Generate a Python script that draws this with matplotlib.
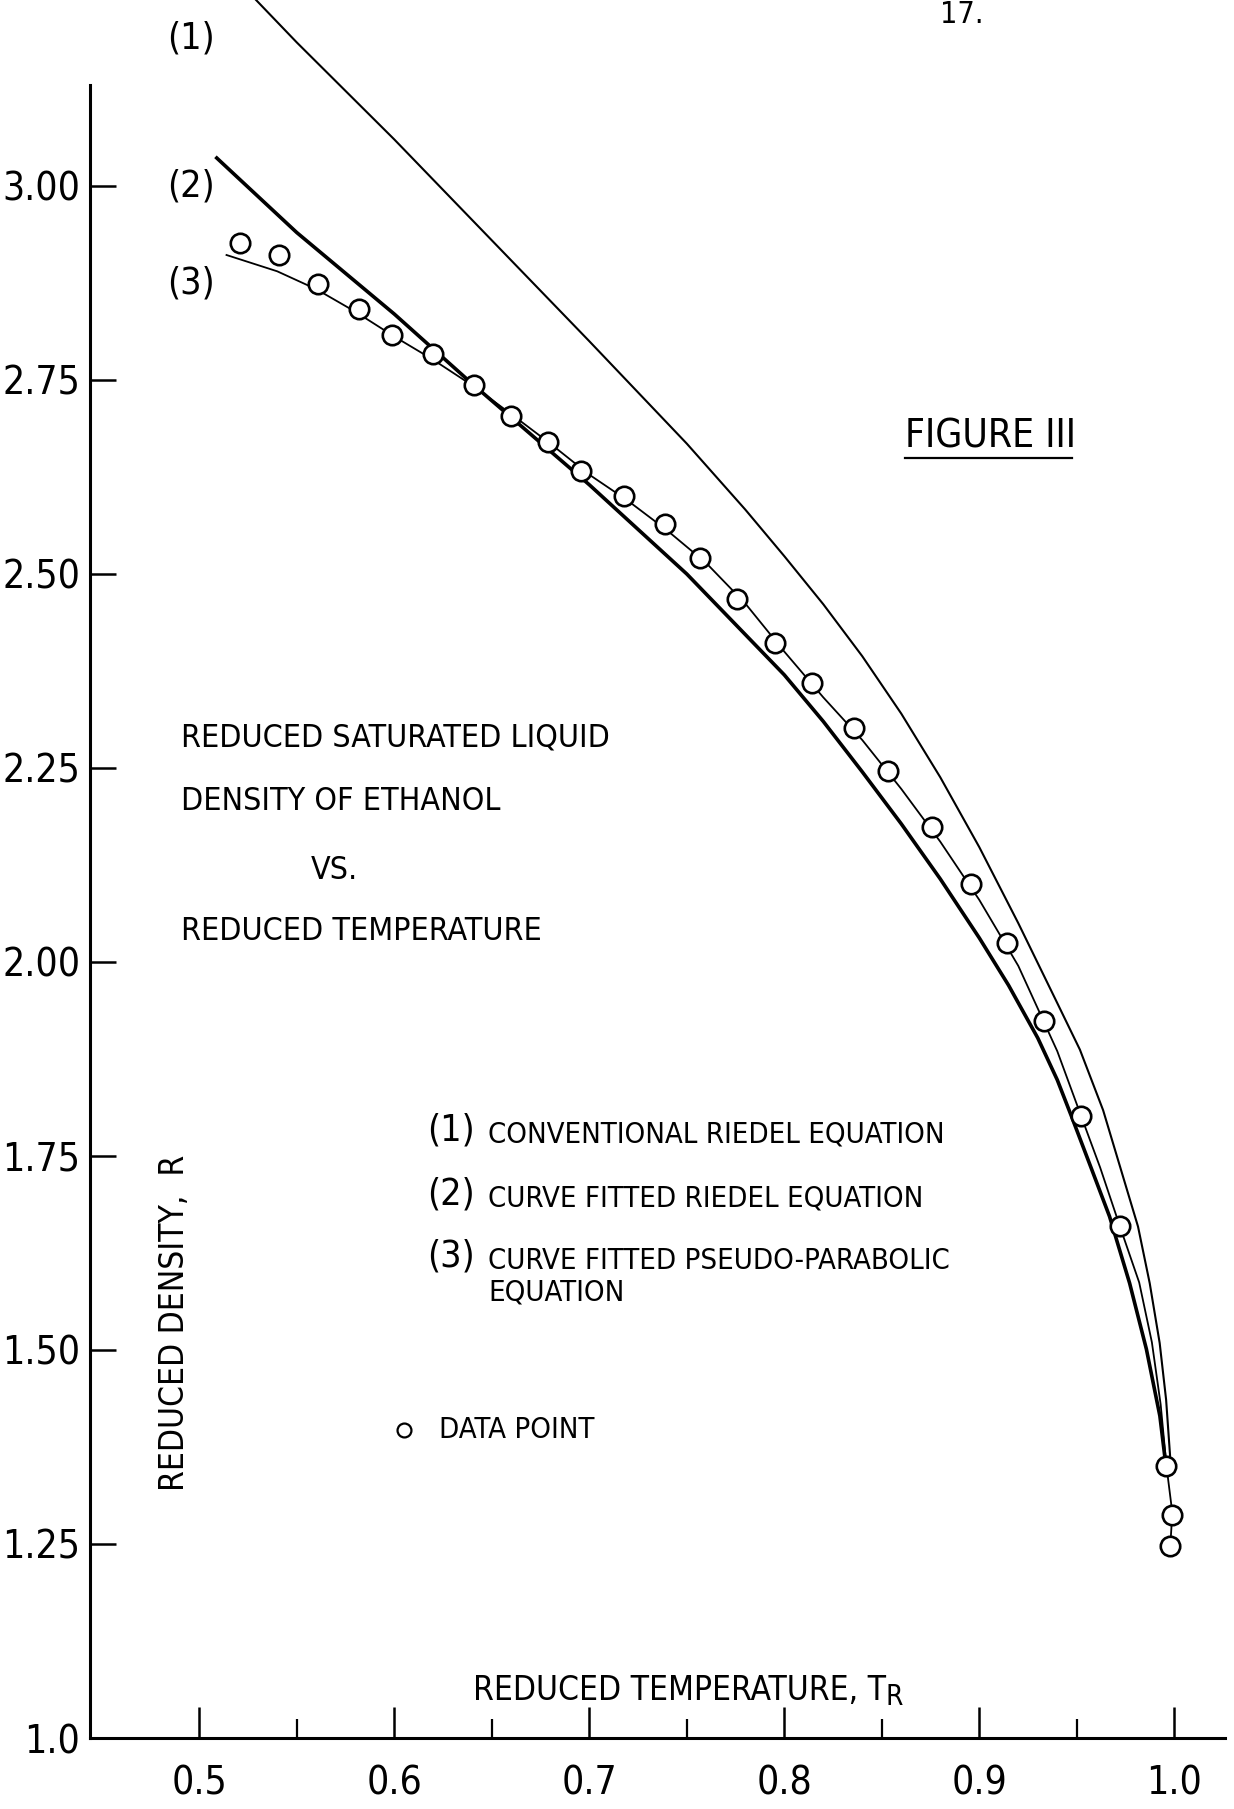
import os
import matplotlib
matplotlib.use('Agg')
import matplotlib.pyplot as plt
from matplotlib import font_manager
from matplotlib.font_manager import FontProperties
from matplotlib.lines import Line2D
from matplotlib.ticker import FixedLocator

# Donnees (temperature reduite, densite reduite)
data_tr = [0.521, 0.541, 0.561, 0.582, 0.599, 0.620, 0.641, 0.660, 0.679, 0.696,
           0.718, 0.739, 0.757, 0.776, 0.795, 0.814, 0.836, 0.853, 0.876, 0.896,
           0.914, 0.933, 0.952, 0.972, 0.996, 0.999, 0.998]
data_rho = [2.927, 2.911, 2.874, 2.842, 2.808, 2.784, 2.743, 2.704, 2.670, 2.633,
            2.600, 2.564, 2.520, 2.468, 2.411, 2.359, 2.301, 2.246, 2.174, 2.101,
            2.025, 1.924, 1.801, 1.660, 1.350, 1.287, 1.248]

# (1) equation de Riedel conventionnelle
riedel_tr = [0.529, 0.55, 0.60, 0.65, 0.70, 0.75, 0.78, 0.80, 0.82, 0.84, 0.86,
             0.88, 0.90, 0.92, 0.94, 0.9516, 0.9635, 0.9814, 0.9874, 0.9925, 0.9958, 0.998]
riedel_rho = [3.24, 3.185, 3.06, 2.93, 2.80, 2.668, 2.583, 2.523, 2.461, 2.394, 2.32,
              2.238, 2.148, 2.05, 1.947, 1.887, 1.809, 1.659, 1.586, 1.509, 1.436, 1.358]

# (2) equation de Riedel ajustee
fit_riedel_tr = [0.509, 0.55, 0.60, 0.64, 0.70, 0.75, 0.80, 0.82, 0.84, 0.86, 0.88,
                 0.90, 0.915, 0.93, 0.94, 0.9473, 0.957, 0.9668, 0.9771, 0.9857, 0.9926, 0.9955]
fit_riedel_rho = [3.036, 2.94, 2.835, 2.745, 2.615, 2.50, 2.37, 2.31, 2.245, 2.178, 2.107,
                  2.031, 1.97, 1.902, 1.848, 1.801, 1.737, 1.672, 1.586, 1.501, 1.415, 1.355]

# (3) equation pseudo-parabolique ajustee
parab_tr = [0.514, 0.54, 0.56, 0.58, 0.60, 0.62, 0.64, 0.66, 0.68, 0.70,
            0.72, 0.74, 0.76, 0.78, 0.80, 0.82, 0.84, 0.86, 0.88, 0.90,
            0.92, 0.94, 0.952, 0.962, 0.972, 0.982, 0.9885, 0.993, 0.996, 0.999, 0.998]
parab_rho = [2.911, 2.89, 2.867, 2.838, 2.806, 2.776, 2.743, 2.706, 2.668, 2.628,
             2.594, 2.556, 2.514, 2.462, 2.400, 2.341, 2.286, 2.223, 2.155, 2.080,
             1.995, 1.885, 1.803, 1.735, 1.66, 1.587, 1.51, 1.43, 1.35, 1.29, 1.25]

y_ticks = [1.0, 1.25, 1.50, 1.75, 2.00, 2.25, 2.50, 2.75, 3.00]
y_labels = ['1.0', '1.25', '1.50', '1.75', '2.00', '2.25', '2.50', '2.75', '3.00']
x_ticks = [0.5, 0.6, 0.7, 0.8, 0.9, 1.0]
x_labels = ['0.5', '0.6', '0.7', '0.8', '0.9', '1.0']
x_minor = [0.55, 0.65, 0.75, 0.85, 0.95]

# police etroite si disponible (le lettrage d'origine est tres condense)
narrow_file = None
for f in font_manager.fontManager.ttflist:
    n = os.path.basename(f.fname).lower()
    if ('narrow' in n or 'condensed' in n) and not any(k in n for k in ['bold', 'italic', 'oblique', 'light', 'thin']):
        narrow_file = f.fname
        break
if narrow_file:
    fp = FontProperties(fname=narrow_file)
else:
    fp = FontProperties(family='DejaVu Sans', stretch='condensed')

W, H = 1234, 1809
fig = plt.figure(figsize=(W / 100, H / 100), dpi=100)
ax = fig.add_axes([90 / W, 71 / H, (1225 - 90) / W, 1 - 71 / H])

ax.plot(riedel_tr, riedel_rho, color='black', lw=1.5, clip_on=False)
ax.plot(fit_riedel_tr, fit_riedel_rho, color='black', lw=2.6, clip_on=False)
ax.plot(parab_tr, parab_rho, color='black', lw=1.3, clip_on=False)
ax.plot(data_tr, data_rho, ls='none', marker='o', ms=14, mfc='white', mec='black',
        mew=1.9, clip_on=False, zorder=5)

ax.set_xlim(0.444, 1.026)
ax.set_ylim(1.0, 3.2396)

for s in ['top', 'right']:
    ax.spines[s].set_visible(False)
ax.spines['left'].set_bounds(1.0, 3.13)
ax.spines['left'].set_linewidth(2.2)
ax.spines['bottom'].set_linewidth(2.2)

ax.set_yticks(y_ticks)
ax.set_yticklabels(y_labels)
ax.set_xticks(x_ticks)
ax.set_xticklabels(x_labels)
ax.xaxis.set_minor_locator(FixedLocator(x_minor))
ax.tick_params(axis='y', direction='in', length=19, width=1.8, pad=7)
ax.tick_params(axis='x', which='major', direction='in', length=22, width=1.8, pad=19)
ax.tick_params(axis='x', which='minor', direction='in', length=14, width=1.6)
for lab in ax.get_xticklabels() + ax.get_yticklabels():
    lab.set_fontproperties(fp)
    lab.set_fontsize(28)


def ftext(px, py, s, size, **kw):
    # position en pixels de la figure (origine en haut a gauche)
    kw.setdefault('va', 'center')
    return fig.text(px / W, 1 - py / H, s, fontproperties=fp, fontsize=size, **kw)


# numeros des courbes
ftext(167, 38, '(1)', 27)
ftext(167, 187, '(2)', 27)
ftext(167, 283, '(3)', 27)

# numero de page (coupe en haut sur l'original)
ftext(940, 0, '17.', 22, va='top')

# titre
ftext(905, 436, 'FIGURE III', 28)
fig.add_artist(Line2D([905 / W, 1072 / W], [1 - 458 / H, 1 - 458 / H], color='black', lw=1.6))

ftext(181, 738, 'REDUCED SATURATED LIQUID', 23)
ftext(181, 802, 'DENSITY OF ETHANOL', 23)
ftext(311, 871, 'VS.', 23)
ftext(181, 932, 'REDUCED TEMPERATURE', 23)

# legende
ftext(427, 1130, '(1)', 27)
ftext(488, 1134, 'CONVENTIONAL RIEDEL EQUATION', 21)
ftext(427, 1194, '(2)', 27)
ftext(488, 1198, 'CURVE FITTED RIEDEL EQUATION', 21)
ftext(427, 1257, '(3)', 27)
ftext(488, 1261, 'CURVE FITTED PSEUDO-PARABOLIC', 21)
ftext(488, 1293, 'EQUATION', 21)
fig.add_artist(Line2D([404 / W], [1 - 1430 / H], marker='o', ms=10, mfc='white',
                      mec='black', mew=1.6, ls='none'))
ftext(439, 1430, 'DATA POINT', 21)

# titres des axes
fig.text(175 / W, 1 - 1323 / H, 'REDUCED DENSITY,  R', fontproperties=fp, fontsize=24,
         rotation=90, ha='center', va='center')
xt = ftext(473, 1690, 'REDUCED TEMPERATURE, T', 24)
ax.annotate('R', xy=(1, 0), xycoords=xt, xytext=(0, -3), textcoords='offset points',
            fontproperties=fp, fontsize=20, ha='left', va='bottom')

fig.savefig('out.png', dpi=100)
